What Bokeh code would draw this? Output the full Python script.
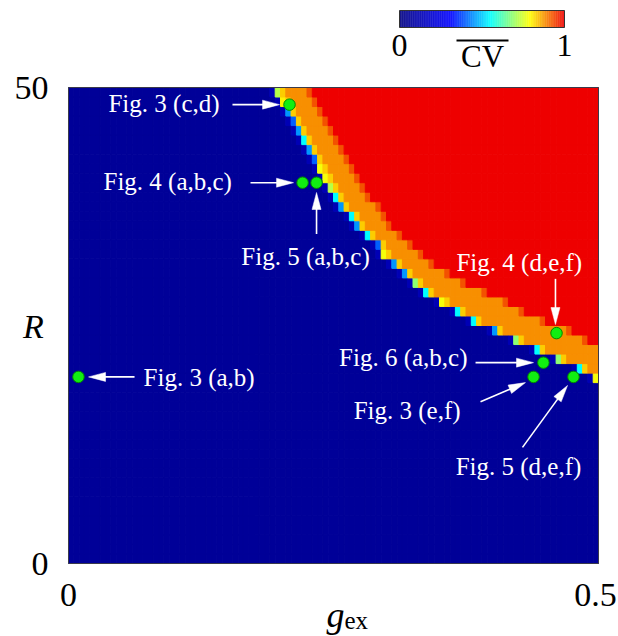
import math
from bokeh.plotting import figure
from bokeh.models import Range1d, ColumnDataSource
from bokeh.embed import file_html
from bokeh.resources import INLINE
from bokeh.core.properties import value
from bokeh.transform import linear_cmap

# ---------------- data ----------------
g_lo, g_hi = 0.0, 0.5
R_lo, R_hi = 0, 50
g_step = 0.005          # cell width in g_ex
R_step = 1              # cell height in R

# rows R = 20 .. 50 : g_ex where the transition band begins
band_R = list(range(20, 51))
band_start = [0.495, 0.478, 0.459, 0.438, 0.418, 0.400, 0.382, 0.367, 0.351, 0.337,
              0.325, 0.315, 0.306, 0.296, 0.289, 0.279, 0.272, 0.263, 0.256, 0.250,
              0.245, 0.240, 0.235, 0.229, 0.225, 0.220, 0.215, 0.210, 0.206, 0.201,
              0.195]
# g_ex where the saturated (CV = 1) region begins (0.6 = not inside the plot)
red_start = [0.600, 0.600, 0.600, 0.600, 0.490, 0.474, 0.452, 0.432, 0.414, 0.395,
             0.376, 0.358, 0.346, 0.334, 0.323, 0.313, 0.306, 0.299, 0.293, 0.287,
             0.282, 0.276, 0.271, 0.266, 0.260, 0.255, 0.250, 0.245, 0.240, 0.236,
             0.231]
# CV of the first cell of the band in each row
edge_cv = [0.78, 0.55, 0.68, 0.55, 0.68, 0.45, 0.55, 0.55, 0.78, 0.55,
           0.68, 0.45, 0.45, 0.78, 0.40, 0.55, 0.45, 0.55, 0.45, 0.55,
           0.72, 0.78, 0.78, 0.40, 0.45, 0.55, 0.45, 0.40, 0.45, 0.80,
           0.72]
cv_low = 0.06      # asynchronous region
cv_pre = 0.13      # cell just before the band
cv_second = 0.83   # second cell of band
cv_band = 0.88     # band interior
cv_last = 0.93     # last cell before the saturated region
cv_high = 1.0      # saturated region

# marked parameter points
pt_g = [0.2085, 0.2208, 0.2340, 0.4604, 0.4480, 0.4387, 0.4764, 0.0094]
pt_R = [48.2, 40.0, 40.0, 24.2, 21.1, 19.6, 19.6, 19.6]

# annotation texts: (text, g, R, align)
notes = [("Fig. 3 (c,d)", 0.0377, 48.3, "left"),
         ("Fig. 4 (a,b,c)", 0.0330, 40.1, "left"),
         ("Fig. 5 (a,b,c)", 0.1630, 32.3, "left"),
         ("Fig. 4 (d,e,f)", 0.3660, 31.6, "left"),
         ("Fig. 6 (a,b,c)", 0.3764, 21.6, "right"),
         ("Fig. 3 (a,b)", 0.0708, 19.5, "left"),
         ("Fig. 3 (e,f)", 0.2690, 16.1, "left"),
         ("Fig. 5 (d,e,f)", 0.4245, 10.2, "center")]
# arrows: (tail g, tail R, tip g, tip R)
arrows = [(0.1547, 48.2, 0.1991, 48.2),
          (0.1717, 40.0, 0.2123, 40.0),
          (0.2340, 34.6, 0.2340, 38.97),
          (0.4594, 29.9, 0.4594, 25.1),
          (0.3840, 21.1, 0.4387, 21.1),
          (0.0623, 19.6, 0.0189, 19.6),
          (0.3887, 17.0, 0.4311, 19.0),
          (0.4283, 12.2, 0.4708, 18.7)]

x_ticks = [0, 0.5]
x_tick_labels = ["0", "0.5"]
y_ticks = [0, 50]
y_tick_labels = ["0", "50"]
cbar_lo, cbar_hi = 0.0, 1.0
cbar_tick_labels = ["0", "1"]
cbar_title = "CV"

# ---------------- layout (pixels on the canvas) ----------------
W, H = 618, 636
FL, FR, FT, FB = 68, 598, 87, 563          # heat-map frame
KX = (FR - FL) / (g_hi - g_lo)
KY = (FB - FT) / (R_hi - R_lo)


def X(px):
    return g_lo + (px - FL) / KX


def Y(py):
    return R_lo + (FB - py) / KY


# ---------------- palette (jet-like) ----------------
anchors = [(0.0, (0, 0, 128)), (0.31, (0, 0, 255)), (0.55, (0, 255, 255)),
           (0.79, (255, 255, 0)), (1.0, (238, 0, 0))]
palette = []
for k in range(256):
    t = k / 255
    for (a, ca), (b, cb) in zip(anchors[:-1], anchors[1:]):
        if a <= t <= b:
            f = (t - a) / (b - a)
            c = [round(ca[j] + f * (cb[j] - ca[j])) for j in range(3)]
            break
    palette.append("#%02x%02x%02x" % tuple(c))

# ---------------- build heat-map cells ----------------
n_g = int(round((g_hi - g_lo) / g_step))
xs, ys, vs = [], [], []
for R in range(R_lo + 1, R_hi + 1):
    if R in band_R:
        k = band_R.index(R)
        bs, rs, ev = band_start[k], red_start[k], edge_cv[k]
    else:
        bs, rs, ev = 9.0, 9.0, cv_low
    for i in range(n_g):
        gc = g_lo + (i + 0.5) * g_step
        if gc >= rs:
            v = cv_high
        elif gc >= bs:
            j = int(round((gc - bs) / g_step - 0.5 + 1e-9))
            if j == 0:
                v = ev
            elif gc + g_step >= rs:
                v = cv_last
            elif j == 1:
                v = cv_second
            else:
                v = cv_band
        elif gc + g_step >= bs:
            v = cv_pre
        else:
            v = cv_low
        xs.append(gc)
        ys.append(R - 0.5 * R_step)
        vs.append(v)
cells = ColumnDataSource(dict(x=xs, y=ys, v=vs))

SERIF = value("'Liberation Serif', 'Times New Roman', Times, serif")

p = figure(width=W, height=H, x_range=Range1d(X(0), X(W)), y_range=Range1d(Y(H), Y(0)),
           output_backend="svg", toolbar_location=None, min_border=0)
p.axis.visible = False
p.grid.visible = False
p.outline_line_color = None
p.background_fill_color = "white"
p.border_fill_color = "white"

cmap = linear_cmap("v", palette, 0, 1)
p.rect(x="x", y="y", width=g_step, height=R_step, source=cells,
       fill_color=cmap, line_color=cmap, line_width=1)
p.quad(left=[g_lo], right=[g_hi], bottom=[R_lo], top=[R_hi], fill_color=None,
       line_color="#3a3a4a", line_width=1)

# ---- colour bar ----
CB_L, CB_R, CB_T, CB_B = 399, 564, 10, 27
n = len(palette)
cw = (X(CB_R) - X(CB_L)) / n
p.quad(left=[X(CB_L) + k * cw for k in range(n)],
       right=[X(CB_L) + (k + 1) * cw + cw * 0.3 for k in range(n)],
       top=Y(CB_T), bottom=Y(CB_B), fill_color=palette, line_color=None)
p.quad(left=[X(CB_L)], right=[X(CB_R)], top=[Y(CB_T)], bottom=[Y(CB_B)],
       fill_color=None, line_color="#333333", line_width=1)
cb_span = X(CB_R) - X(CB_L)
p.text(x=[X(CB_L) + (cbar_lo - cbar_lo) * cb_span, X(CB_L) + (cbar_hi - cbar_lo) * cb_span],
       y=[Y(45), Y(45)], text=cbar_tick_labels, text_font=SERIF,
       text_font_size="32px", text_align="center", text_baseline="middle", text_color="black")
p.text(x=[X(482)], y=[Y(56)], text=[cbar_title], text_font=SERIF, text_font_size="31px",
       text_align="center", text_baseline="middle", text_color="black")
p.segment(x0=[X(456)], y0=[Y(40)], x1=[X(508)], y1=[Y(40)], line_color="black", line_width=2)

# ---- arrows ----
HL, HW = 17, 4.5
sx0, sy0, sx1, sy1, hx, hy = [], [], [], [], [], []
for (g0, r0, g1, r1) in arrows:
    x0, y0, x1, y1 = g0 * KX, r0 * KY, g1 * KX, r1 * KY
    L = math.hypot(x1 - x0, y1 - y0)
    ux, uy = (x1 - x0) / L, (y1 - y0) / L
    bx, by = x1 - ux * HL, y1 - uy * HL
    nx, ny = -uy, ux
    sx0.append(g0); sy0.append(r0)
    sx1.append((bx + ux * 2) / KX); sy1.append((by + uy * 2) / KY)
    pts = [(x1, y1), (bx + nx * HW, by + ny * HW), (bx - nx * HW, by - ny * HW)]
    hx.append([q[0] / KX for q in pts]); hy.append([q[1] / KY for q in pts])
p.segment(x0=sx0, y0=sy0, x1=sx1, y1=sy1, line_color="white", line_width=1.6)
p.patches(xs=hx, ys=hy, fill_color="white", line_color="white", line_width=0.5)

p.scatter(pt_g, pt_R, size=11.5, fill_color="#11ee11", line_color="#008800", line_width=1)

for al in ("left", "right", "center"):
    sel = [nt for nt in notes if nt[3] == al]
    if sel:
        p.text(x=[nt[1] for nt in sel], y=[nt[2] for nt in sel], text=[nt[0] for nt in sel],
               text_font=SERIF, text_font_size="25px", text_color="white",
               text_align=al, text_baseline="middle")

# ---- tick labels and axis titles ----
p.text(x=[x_ticks[0], x_ticks[1] - X(FL + 3) + X(FL)], y=[Y(594)] * len(x_ticks),
       text=x_tick_labels, text_font=SERIF,
       text_font_size="34px", text_align="center", text_baseline="middle", text_color="black")
p.text(x=[X(48)] * len(y_ticks), y=y_ticks, text=y_tick_labels, text_font=SERIF,
       text_font_size="34px", text_align="right", text_baseline="middle", text_color="black")
p.text(x=[X(33)], y=[Y(326)], text=["R"], text_font=SERIF, text_font_size="34px",
       text_font_style="italic", text_align="center", text_baseline="middle", text_color="black")
p.text(x=[X(335)], y=[Y(614)], text=["g"], text_font=SERIF, text_font_size="36px",
       text_font_style="italic", text_align="center", text_baseline="alphabetic",
       text_color="black")
p.text(x=[X(344)], y=[Y(620)], text=["ex"], text_font=SERIF, text_font_size="25px",
       text_align="left", text_baseline="alphabetic", text_color="black")

open("out.html", "w").write(file_html(p, INLINE))
